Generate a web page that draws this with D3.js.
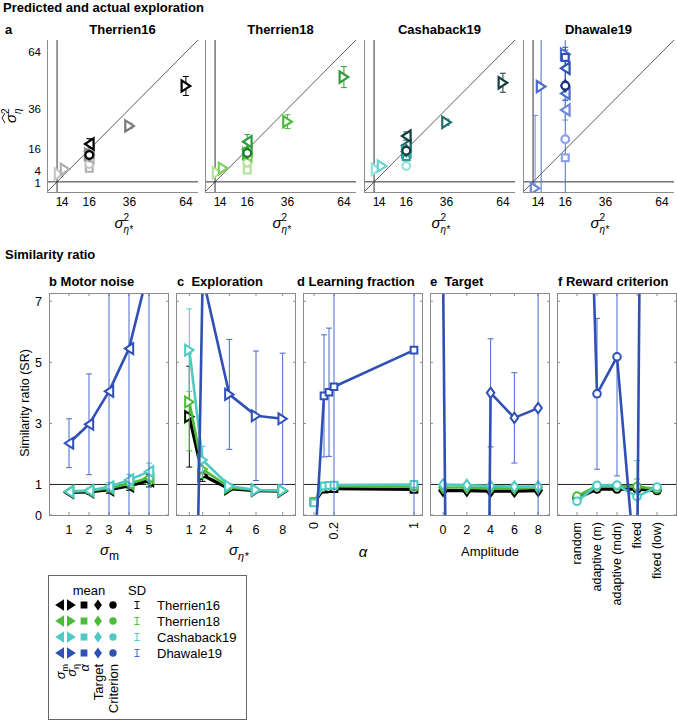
<!DOCTYPE html>
<html>
<head>
<meta charset="utf-8">
<script src="https://cdn.jsdelivr.net/npm/d3@7"></script>
<style>
body{margin:0;background:#fff;}
text{font-family:"Liberation Sans",Arial,sans-serif;fill:#000;}
.pre{white-space:pre;}
</style>
</head>
<body>
<div id="chart"></div>
<script>
var svgWidth = 677;
var svgHeight = 721;

// ---------------- data ----------------
var datasets = ["Therrien16", "Therrien18", "Cashaback19", "Dhawale19"];
var mainColors = ["#000000", "#4dbb3a", "#4fcac3", "#3050b6"];
var errColors = ["#000000", "#4dbb3a", "#4fcac3", "#4a69c9"];
// light -> dark shades used in panel a
var shades = [
    ["#c8c8c8", "#b0b0b0", "#8a8a8a", "#7a7a7a", "#000000"],
    ["#b3e39a", "#7fd05a", "#4cbb3a", "#2f9b3c", "#1e7a31"],
    ["#98e2de", "#6cd3ce", "#2f9c97", "#236d6c", "#143f3f"],
    ["#8ea4e2", "#6f88d8", "#4f6ccc", "#3050b6", "#1c3282"]
];

// panel a: [marker, true sigma^2, estimated sigma^2, sd, shade]
var aTicks = [1, 4, 16, 36, 64];
var aT16 = [
    ["square", 16, 6.7, 0, 1], ["circle", 16, 8.8, 0, 0],
    ["left", 16, 12, 0, 1], ["left", 16, 15, 0, 2], ["left", 16, 18.7, 2.6, 4],
    ["right", 1, 3.9, 0.4, 0], ["right", 4, 6.2, 0.6, 1], ["right", 16, 13.6, 0.8, 2],
    ["right", 36, 27.6, 1.3, 3], ["right", 64, 47.3, 4.7, 4],
    ["diamond", 16, 13, 0.5, 2], ["circle", 16, 13.3, 0.8, 4]
];
var aT18 = [
    ["square", 16, 5.9, 0, 0], ["circle", 16, 9.5, 0, 0],
    ["left", 16, 13, 0, 1], ["left", 16, 16, 0, 2], ["left", 16, 19.8, 3.5, 3],
    ["right", 1, 4.5, 0.4, 0], ["right", 4, 6.7, 0.6, 1], ["right", 16, 14, 0.8, 2],
    ["right", 36, 29.7, 3.4, 2], ["right", 64, 51.7, 5.2, 3],
    ["diamond", 16, 14.5, 0.5, 3], ["circle", 16, 14.2, 0.8, 4]
];
var aC19 = [
    ["circle", 16, 7.8, 0, 0], ["square", 16, 12.4, 0, 2],
    ["left", 16, 15, 0, 2], ["left", 16, 18, 0, 3], ["left", 16, 22.6, 2, 4],
    ["right", 1, 6.2, 0.4, 0], ["right", 4, 7.8, 0.6, 1], ["right", 16, 15, 0.8, 2],
    ["right", 36, 29.4, 1.5, 3], ["right", 64, 48.9, 4.7, 4],
    ["diamond", 16, 15.5, 0.5, 3], ["circle", 16, 15.4, 0.8, 4]
];
var aD19 = [
    ["right", 1, -3.2, 36, 1], ["right", 4, 47, 200, 2], ["right", 16, 63, 200, 2],
    ["square", 16, 11.9, 0, 0], ["circle", 16, 21, 0, 0],
    ["left", 16, 35.5, 5, 1], ["left", 16, 43.6, 3.5, 2], ["left", 16, 56, 9, 3],
    ["square", 16, 61.4, 5, 3], ["diamond", 16, 47.4, 2, 4], ["circle", 16, 47.4, 0, 4]
];
var aPoints = [aT16, aT18, aC19, aD19];

// panel b: motor noise
var bX = [1, 2, 3, 4, 5];
var bMeans = [
    [0.74, 0.76, 0.83, 0.95, 1.12],
    [0.78, 0.79, 0.88, 1.02, 1.22],
    [0.76, 0.80, 0.92, 1.15, 1.42],
    [2.35, 2.97, 4.05, 5.45, 8.1]
];
var bSDs = [
    [0.06, 0.08, 0.12, 0.14, 0.2],
    [0.06, 0.08, 0.12, 0.14, 0.22],
    [0.06, 0.08, 0.14, 0.18, 0.28],
    [0.8, 1.65, 40, 40, 40]
];
// panel c: exploration
var cX = [1, 2, 4, 6, 8];
var cMeans = [
    [3.22, 1.3, 0.86, 0.8, 0.78],
    [3.7, 1.5, 0.9, 0.82, 0.8],
    [5.4, 1.8, 0.95, 0.82, 0.8],
    [-16, 7.8, 3.95, 3.25, 3.15]
];
var cSDs = [
    [1.65, 0.2, 0.06, 0.05, 0.05],
    [1.6, 0.3, 0.06, 0.05, 0.05],
    [1.35, 0.45, 0.08, 0.05, 0.05],
    [0, 0, 1.8, 2.12, 2.15]
];
// panel d: learning fraction
var dX = [0, 0.1, 0.15, 0.2, 1];
var dMeans = [
    [0.42, 0.85, 0.86, 0.86, 0.84],
    [0.45, 0.95, 0.95, 0.96, 0.93],
    [0.4, 0.95, 0.97, 0.98, 1.0],
    [-1.5, 3.9, 4.02, 4.2, 5.4]
];
var dSDs = [
    [0.05, 0.04, 0.04, 0.04, 0.04],
    [0.05, 0.04, 0.04, 0.04, 0.04],
    [0.06, 0.05, 0.05, 0.05, 0.05],
    [0, 2.0, 2.1, 40, 40]
];
// panel e: target
var eX = [0, 2, 4, 6, 8];
var eMeans = [
    [0.8, 0.8, 0.78, 0.78, 0.8],
    [0.9, 0.9, 0.88, 0.88, 0.9],
    [1.0, 0.98, 0.95, 0.93, 0.93],
    [8, -80, 4.0, 3.18, 3.5]
];
var eSDs = [
    [0.06, 0.06, 0.06, 0.06, 0.06],
    [0.06, 0.06, 0.06, 0.06, 0.06],
    [0.07, 0.07, 0.07, 0.07, 0.07],
    [0, 0, 1.77, 1.48, 40]
];
// panel f: reward criterion
var fLabels = ["random", "adaptive (m)", "adaptive (mdn)", "fixed", "fixed (low)"];
var fX = [1, 2, 3, 4, 5];
var fMeans = [
    [0.55, 0.85, 0.85, 0.85, 0.8],
    [0.62, 0.95, 0.95, 0.93, 0.85],
    [0.45, 0.97, 0.98, 0.6, 0.92],
    [26, 3.97, 5.18, -2.5, 80]
];
var fSDs = [
    [0.06, 0.06, 0.06, 0.06, 0.06],
    [0.06, 0.06, 0.06, 0.25, 0.06],
    [0.08, 0.06, 0.06, 1.18, 0.08],
    [0, 2.47, 3.9, 0, 0]
];
var srTicks = [0, 1, 3, 5, 7];

// ---------------- layout ----------------
var topLefts = [47, 205, 364, 523], topW = 151, topTop = 40, topH = 152;
var botLefts = [49, 176, 303, 430, 557], botW = 120, botTop = 293, botH = 222;

var svg = d3.select("#chart")
    .append("svg")
    .attr("width", svgWidth)
    .attr("height", svgHeight);

function markerPath(type, w, h) {
    if (type === "left") return `M${w},${-h}L${-w},0L${w},${h}Z`;
    if (type === "right") return `M${-w},${-h}L${w},0L${-w},${h}Z`;
    if (type === "square") return `M${-w},${-w}H${w}V${w}H${-w}Z`;
    if (type === "diamond") return `M0,${-h}L${w},0L0,${h}L${-w},0Z`;
    return `M${-w},0a${w},${w} 0 1,0 ${2 * w},0a${w},${w} 0 1,0 ${-2 * w},0Z`;
}
function drawMarker(g, type, x, y, color, size, sw, fill) {
    var w = size, h = size * 1.3;
    if (type === "square") w = size * 0.8;
    if (type === "circle") w = size * 0.9;
    if (type === "diamond") { w = size * 0.9; h = size * 1.25; }
    g.append("path")
        .attr("d", markerPath(type, w, h))
        .attr("transform", `translate(${x},${y})`)
        .attr("fill", fill || "white")
        .attr("stroke", color)
        .attr("stroke-width", sw)
        .attr("stroke-linejoin", "miter");
}
function drawErr(g, x, y1, y2, color, cap) {
    g.append("line").attr("x1", x).attr("x2", x).attr("y1", y1).attr("y2", y2)
        .attr("stroke", color).attr("stroke-width", 1);
    [y1, y2].forEach(function (yy) {
        g.append("line").attr("x1", x - cap).attr("x2", x + cap).attr("y1", yy).attr("y2", yy)
            .attr("stroke", color).attr("stroke-width", 1);
    });
}

// ---------------- headings ----------------
svg.append("text").attr("x", 3).attr("y", 12).attr("font-size", 13).attr("font-weight", "bold")
    .text("Predicted and actual exploration");
svg.append("text").attr("x", 5).attr("y", 34).attr("font-size", 13).attr("font-weight", "bold").text("a");
svg.append("text").attr("x", 5).attr("y", 259).attr("font-size", 13).attr("font-weight", "bold")
    .text("Similarity ratio");

// ---------------- panel a ----------------
var topX = d3.scaleLinear().domain([-5, 70]).range([0, topW]);
var topY = d3.scaleLinear().domain([-5, 70]).range([topH, 0]);

aPoints.forEach(function (pts, i) {
    var g = svg.append("g").attr("transform", `translate(${topLefts[i]},${topTop})`);
    var clipId = "clipA" + i;
    g.append("clipPath").attr("id", clipId).append("rect").attr("width", topW).attr("height", topH);

    g.append("text").attr("x", topW / 2).attr("y", -6).attr("text-anchor", "middle")
        .attr("font-size", 13).attr("font-weight", "bold").text(datasets[i]);

    var inner = g.append("g").attr("clip-path", `url(#${clipId})`);
    inner.append("line").attr("x1", topX(0)).attr("x2", topX(0)).attr("y1", 0).attr("y2", topH)
        .attr("stroke", "#333").attr("stroke-width", 1);
    inner.append("line").attr("x1", 0).attr("x2", topW).attr("y1", topY(0)).attr("y2", topY(0))
        .attr("stroke", "#333").attr("stroke-width", 1);
    inner.append("line").attr("x1", topX(-5)).attr("y1", topY(-5)).attr("x2", topX(70)).attr("y2", topY(70))
        .attr("stroke", "#333").attr("stroke-width", 0.8);

    pts.forEach(function (p) {
        var col = shades[i][p[4]];
        if (p[3] > 0) drawErr(inner, topX(p[1]), topY(p[2] - p[3]), topY(p[2] + p[3]), col, 3);
    });
    pts.forEach(function (p) {
        drawMarker(inner, p[0], topX(p[1]), topY(p[2]), shades[i][p[4]], 4.3, 2.2);
    });

    // axes lines (left + bottom)
    g.append("line").attr("x1", 0.5).attr("x2", 0.5).attr("y1", 0).attr("y2", topH)
        .attr("stroke", "#8c8c8c").attr("stroke-width", 1);
    g.append("line").attr("x1", 0).attr("x2", topW).attr("y1", topH + 0.5).attr("y2", topH + 0.5)
        .attr("stroke", "#8c8c8c").attr("stroke-width", 1);

    aTicks.forEach(function (t) {
        g.append("text").attr("x", topX(t)).attr("y", topH + 14).attr("text-anchor", "middle")
            .attr("font-size", 12).text(t);
    });
    if (i === 0) {
        aTicks.forEach(function (t) {
            var nudge = t === 1 ? 3.5 : (t === 4 ? -3 : 0);
            g.append("text").attr("x", -6).attr("y", topY(t) + 4 + nudge).attr("text-anchor", "end")
                .attr("font-size", 11.5).text(t);
        });
        // y label: sigma hat squared eta
        var yl = g.append("g").attr("transform", `translate(${-31},${77}) rotate(-90)`);
        yl.append("text").attr("x", -6).attr("y", 0).attr("font-size", 15).attr("font-style", "italic").text("σ");
        yl.append("path").attr("d", "M-6,-11 L-1,-14 L4,-11").attr("fill", "none").attr("stroke", "#000").attr("stroke-width", 0.9);
        yl.append("text").attr("x", 3).attr("y", -7).attr("font-size", 10).text("2");
        yl.append("text").attr("x", 3).attr("y", 5).attr("font-size", 10).attr("font-style", "italic").text("η");
    }
    // x label: sigma^2 eta*
    var xl = g.append("g").attr("transform", `translate(${topW / 2 - 8},${topH + 36})`);
    xl.append("text").attr("x", 0).attr("y", 0).attr("font-size", 15).attr("font-style", "italic").text("σ");
    xl.append("text").attr("x", 9).attr("y", -7).attr("font-size", 10).text("2");
    xl.append("text").attr("x", 9).attr("y", 5).attr("font-size", 10).attr("font-style", "italic").text("η*");
});

// ---------------- similarity ratio panels ----------------
var botPanels = [
    { title: "b Motor noise", tx: 0, xs: bX, means: bMeans, sds: bSDs, domain: [0, 6], ticks: bX, marker: "left" },
    { title: "c  Exploration", tx: 1, xs: cX, means: cMeans, sds: cSDs, domain: [0, 9], ticks: cX, marker: "right" },
    { title: "d Learning fraction", tx: -6, xs: dX, means: dMeans, sds: dSDs, domain: [-0.11, 1.09], ticks: [0, 0.2, 1], marker: "square", rotate: true },
    { title: "e  Target", tx: 0, xs: eX, means: eMeans, sds: eSDs, domain: [-1.1, 9], ticks: eX, marker: "diamond" },
    { title: "f Reward criterion", tx: 1, xs: fX, means: fMeans, sds: fSDs, domain: [0, 6], ticks: fX, marker: "circle", rotate: true, labels: fLabels }
];
var srY = d3.scaleLinear().domain([0, 7.27]).range([botH, 0]);

botPanels.forEach(function (p, k) {
    var g = svg.append("g").attr("transform", `translate(${botLefts[k]},${botTop})`);
    var clipId = "clipB" + k;
    g.append("clipPath").attr("id", clipId).append("rect").attr("width", botW).attr("height", botH);
    var x = d3.scaleLinear().domain(p.domain).range([0, botW]);

    g.append("text").attr("class", "pre").attr("x", p.tx).attr("y", -7).attr("font-size", 13)
        .attr("font-weight", "bold").text(p.title);

    // ticks (inward, mirrored)
    p.ticks.forEach(function (t) {
        g.append("line").attr("x1", x(t)).attr("x2", x(t)).attr("y1", botH).attr("y2", botH - 3).attr("stroke", "#8c8c8c");
        g.append("line").attr("x1", x(t)).attr("x2", x(t)).attr("y1", 0).attr("y2", 3).attr("stroke", "#8c8c8c");
    });
    srTicks.forEach(function (t) {
        g.append("line").attr("x1", 0).attr("x2", 3).attr("y1", srY(t)).attr("y2", srY(t)).attr("stroke", "#8c8c8c");
        g.append("line").attr("x1", botW).attr("x2", botW - 3).attr("y1", srY(t)).attr("y2", srY(t)).attr("stroke", "#8c8c8c");
    });

    var inner = g.append("g").attr("clip-path", `url(#${clipId})`);
    inner.append("line").attr("x1", 0).attr("x2", botW).attr("y1", srY(1)).attr("y2", srY(1))
        .attr("stroke", "#222").attr("stroke-width", 1);

    var line = d3.line().x(function (d) { return x(d[0]); }).y(function (d) { return srY(d[1]); });
    p.means.forEach(function (vals, s) {
        var pts = p.xs.map(function (xv, j) { return [xv, vals[j], p.sds[s][j]]; });
        pts.forEach(function (d) {
            if (d[2] > 0) drawErr(inner, x(d[0]), srY(d[1] - d[2]), srY(d[1] + d[2]), errColors[s], 3);
        });
        inner.append("path").datum(pts).attr("d", line).attr("fill", "none")
            .attr("stroke", mainColors[s]).attr("stroke-width", s === 0 ? 3.2 : 2.6)
            .attr("stroke-linejoin", "round");
        pts.forEach(function (d) {
            drawMarker(inner, p.marker, x(d[0]), srY(d[1]), mainColors[s], 4.2, 2);
        });
    });

    g.append("rect").attr("x", 0.5).attr("y", 0.5).attr("width", botW - 1).attr("height", botH)
        .attr("fill", "none").attr("stroke", "#8c8c8c").attr("stroke-width", 1);

    // x tick labels
    p.ticks.forEach(function (t, j) {
        var lab = p.labels ? p.labels[j] : t;
        if (p.rotate) {
            g.append("text").attr("transform", `translate(${x(t) + 4},${botH + 7}) rotate(-90)`)
                .attr("text-anchor", "end").attr("font-size", 12.5).text(lab);
        } else {
            g.append("text").attr("x", x(t)).attr("y", botH + 19).attr("text-anchor", "middle")
                .attr("font-size", 12.5).text(lab);
        }
    });
    if (k === 0) {
        srTicks.forEach(function (t) {
            g.append("text").attr("x", -7).attr("y", srY(t) + 4.5).attr("text-anchor", "end")
                .attr("font-size", 12.5).text(t);
        });
        g.append("text").attr("transform", `translate(${-20},${botH / 2 - 1}) rotate(-90)`)
            .attr("text-anchor", "middle").attr("font-size", 12.5).text("Similarity ratio (SR)");
    }
});

// x axis titles of the SR panels
var xl1 = svg.append("text").attr("x", 100).attr("y", 555).attr("font-size", 15);
xl1.append("tspan").attr("font-style", "italic").text("σ");
xl1.append("tspan").attr("font-size", 12).attr("dy", 5).text("m");
var xl2 = svg.append("text").attr("x", 229).attr("y", 555).attr("font-size", 15);
xl2.append("tspan").attr("font-style", "italic").text("σ");
xl2.append("tspan").attr("font-size", 11).attr("font-style", "italic").attr("dy", 5).text("η*");
svg.append("text").attr("x", 363).attr("y", 557).attr("text-anchor", "middle").attr("font-size", 15)
    .attr("font-style", "italic").text("α");
svg.append("text").attr("x", 490).attr("y", 556).attr("text-anchor", "middle").attr("font-size", 13)
    .text("Amplitude");

// ---------------- legend ----------------
var legMarkers = ["left", "right", "square", "diamond", "circle"];
var legX = [60, 71, 84, 98, 113];
var leg = svg.append("g");
leg.append("rect").attr("x", 48.5).attr("y", 575.5).attr("width", 198).attr("height", 144)
    .attr("fill", "none").attr("stroke", "#666").attr("stroke-width", 1);
leg.append("text").attr("x", 89).attr("y", 595).attr("text-anchor", "middle").attr("font-size", 13).text("mean");
leg.append("text").attr("x", 137).attr("y", 595).attr("text-anchor", "middle").attr("font-size", 13).text("SD");
datasets.forEach(function (name, i) {
    var y = 605 + i * 16;
    legMarkers.forEach(function (m, j) {
        drawMarker(leg, m, legX[j], y, mainColors[i], 3, 2, mainColors[i]);
    });
    drawErr(leg, 137, y - 3.5, y + 3.5, errColors[i], 2.5);
    leg.append("text").attr("x", 157).attr("y", y + 4.5).attr("font-size", 13).text(name);
});
var legTexts = [["σ", "m"], ["σ", "η"], ["α", ""], ["Target", ""], ["Criterion", ""]];
legTexts.forEach(function (t, j) {
    var tx = leg.append("text").attr("transform", `translate(${legX[j] + 5},664) rotate(-90)`)
        .attr("text-anchor", "end").attr("font-size", 13);
    if (j < 3) {
        tx.append("tspan").attr("font-style", "italic").text(t[0]);
        if (t[1]) tx.append("tspan").attr("font-size", 9).attr("dy", 3).text(t[1]);
    } else {
        tx.text(t[0]);
    }
});
</script>
</body>
</html>
